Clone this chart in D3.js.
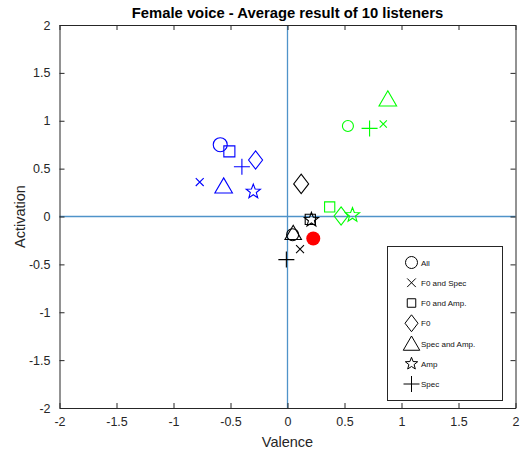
<!DOCTYPE html>
<html><head><meta charset="utf-8">
<script src="https://cdn.jsdelivr.net/npm/d3@7"></script>
<style>body{margin:0;background:#fff;} svg{display:block;font-family:"Liberation Sans",Arial,sans-serif;}</style>
</head><body><svg id="c" width="521" height="451"></svg>
<script>
const methods = ["All","F0 and Spec","F0 and Amp.","F0","Spec and Amp.","Amp","Spec"];
const shapes  = ["circle","x","square","diamond","triangle","star","plus"];
const blueX  = [-0.59,-0.77,-0.51,-0.28,-0.56,-0.30,-0.40];
const blueY  = [ 0.75, 0.36, 0.68, 0.59, 0.32, 0.26, 0.52];
const greenX = [ 0.53, 0.84, 0.37, 0.47, 0.88, 0.57, 0.72];
const greenY = [ 0.945,0.966,0.10, 0.005,1.23, 0.015,0.92];
const blackX = [ 0.045,0.11, 0.20, 0.12, 0.05, 0.21,-0.01];
const blackY = [-0.19,-0.34,-0.03, 0.34,-0.17,-0.035,-0.45];
const refX = [0.226], refY = [-0.23];
const tickVals = [-2,-1.5,-1,-0.5,0,0.5,1,1.5,2];
const tickLabels = ["-2","-1.5","-1","-0.5","0","0.5","1","1.5","2"];

const svg = d3.select("#c");
const L=59.5, R=515.5, T=25, B=408;
const x = d3.scaleLinear().domain([-2,2]).range([L,R]);
const y = d3.scaleLinear().domain([-2,2]).range([B,T]);
const axisCol = "#262626";

// marker paths (size s ~ diameter)
function markerPath(shape, s){
  const h=s/2;
  switch(shape){
    case "circle": return `M${h},0A${h},${h} 0 1,1 ${-h},0A${h},${h} 0 1,1 ${h},0Z`;
    case "square": {const a=h*0.85; return `M${-a},${-a}H${a}V${a}H${-a}Z`;}
    case "diamond": return `M0,${-h*1.3}L${h},0L0,${h*1.3}L${-h},0Z`;
    case "triangle": {const w=h*1.1; return `M0,${-h*1.0}L${w},${h*0.9}L${-w},${h*0.9}Z`;}
    case "x": {const a=h*0.72; return `M${-a},${-a}L${a},${a}M${-a},${a}L${a},${-a}`;}
    case "plus": return `M${-h},0H${h}M0,${-h}V${h}`;
    case "star": {
      let p=""; const ro=h, ri=h*0.42;
      for(let i=0;i<10;i++){const r=i%2?ri:ro; const a=-Math.PI/2+i*Math.PI/5;
        p+=(i?"L":"M")+(r*Math.cos(a)).toFixed(2)+","+(r*Math.sin(a)).toFixed(2);}
      return p+"Z";
    }
  }
}

// zero lines
svg.append("line").attr("x1",x(0)).attr("x2",x(0)).attr("y1",T).attr("y2",B)
  .attr("stroke","#4f93c9").attr("stroke-width",1.3);
svg.append("line").attr("x1",L).attr("x2",R).attr("y1",y(0)).attr("y2",y(0))
  .attr("stroke","#4f93c9").attr("stroke-width",1.3);

// axes
const fmt = d => tickLabels[tickVals.indexOf(d)];
const gx = svg.append("g").attr("transform",`translate(0,${B})`)
  .call(d3.axisBottom(x).tickValues(tickVals).tickFormat(fmt).tickSizeInner(-5).tickSizeOuter(0).tickPadding(9));
const gxt = svg.append("g").attr("transform",`translate(0,${T})`)
  .call(d3.axisTop(x).tickValues(tickVals).tickFormat("").tickSizeInner(-5).tickSizeOuter(0));
const gy = svg.append("g").attr("transform",`translate(${L},0)`)
  .call(d3.axisLeft(y).tickValues(tickVals).tickFormat(fmt).tickSizeInner(-5).tickSizeOuter(0).tickPadding(9));
const gyr = svg.append("g").attr("transform",`translate(${R},0)`)
  .call(d3.axisRight(y).tickValues(tickVals).tickFormat("").tickSizeInner(-5).tickSizeOuter(0));
[gx,gxt,gy,gyr].forEach(g=>{
  g.selectAll("path").attr("stroke",axisCol);
  g.selectAll("line").attr("stroke",axisCol);
  g.selectAll("text").attr("fill",axisCol).style("font-size","12.5px").attr("font-family","Liberation Sans, Arial, sans-serif");
});

// series
function drawSeries(xs, ys, color, sizes){
  const g = svg.append("g");
  xs.forEach((v,i)=>{
    const sh = shapes[i];
    g.append("path").attr("d",markerPath(sh,sizes[sh]))
      .attr("transform",`translate(${x(v)},${y(ys[i])})`)
      .attr("fill","none").attr("stroke",color).attr("stroke-width",1.1);
  });
}
drawSeries(blueX, blueY, "#0000ff", {circle:14,square:13,diamond:14,triangle:16,x:11,plus:16,star:15});
drawSeries(greenX, greenY, "#00ff00", {circle:11,square:12,diamond:14,triangle:16,x:10,plus:16,star:15});
drawSeries(blackX, blackY, "#000000", {circle:12,square:12,diamond:15,triangle:15,x:11,plus:16,star:15});
svg.append("g").selectAll("circle").data(refX).join("circle")
  .attr("cx",d=>x(d)).attr("cy",(d,i)=>y(refY[i])).attr("r",7).attr("fill","#ff0000");

// legend
const lg = svg.append("g");
lg.append("rect").attr("x",387.5).attr("y",246.5).attr("width",115).attr("height",154)
  .attr("fill","#fff").attr("stroke",axisCol).attr("stroke-width",1);
const rowY = d3.scaleLinear().domain([0,6]).range([262.5,384]);
methods.forEach((m,i)=>{
  const sz = {circle:12,square:10,diamond:13,triangle:15,x:12,plus:16,star:13}[shapes[i]];
  lg.append("path").attr("d",markerPath(shapes[i],sz))
    .attr("transform",`translate(${411.5},${rowY(i)})`)
    .attr("fill","none").attr("stroke","#000").attr("stroke-width",1);
  lg.append("text").attr("x",421).attr("y",rowY(i)+3).text(m)
    .style("font-size","8px").attr("fill","#111");
});

// titles
svg.append("text").attr("x",(L+R)/2).attr("y",18).attr("text-anchor","middle")
  .style("font-size","14.8px").style("font-weight","bold").text("Female voice - Average result of 10 listeners");
svg.append("text").attr("x",(L+R)/2).attr("y",447).attr("text-anchor","middle")
  .style("font-size","14.5px").attr("fill",axisCol).text("Valence");
svg.append("text").attr("transform",`translate(24.5,${(T+B)/2}) rotate(-90)`).attr("text-anchor","middle")
  .style("font-size","14.5px").attr("fill",axisCol).text("Activation");
</script></body></html>
